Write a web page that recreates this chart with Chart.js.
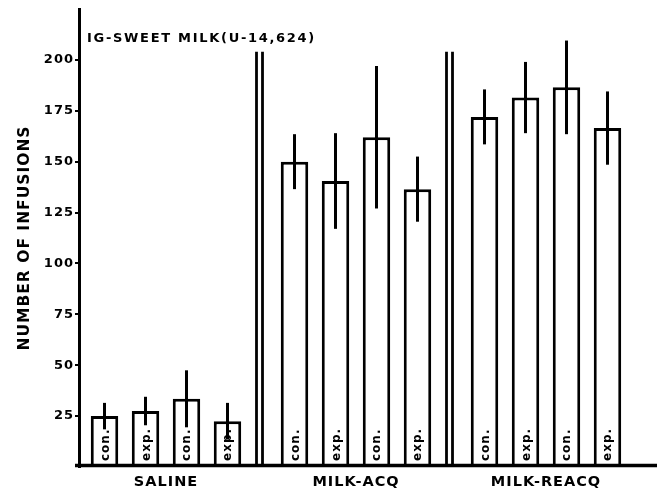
<!DOCTYPE html>
<html>
<head>
<meta charset="utf-8">
<script src="https://cdn.jsdelivr.net/npm/chart.js@4/dist/chart.umd.min.js"></script>
<style>
  html, body { margin: 0; padding: 0; background: #ffffff; }
  #wrap { width: 657px; height: 493px; }
</style>
</head>
<body>
<div id="wrap"><canvas id="c" width="657" height="493"></canvas></div>
<script>
// ---- data ----
const groups = ['SALINE', 'MILK-ACQ', 'MILK-REACQ'];
const barNames = ['con.', 'exp.', 'con.', 'exp.'];
const salineMeans = [25, 27.5, 33.5, 22.5];
const salineErrors = [6.5, 7, 14, 9];
const acqMeans = [150, 140.5, 162, 136.5];
const acqErrors = [13.5, 23.5, 35, 16];
const reacqMeans = [172, 181.5, 186.5, 166.5];
const reacqErrors = [13.5, 17.5, 23, 18];
const yTicks = [25, 50, 75, 100, 125, 150, 175, 200];
const chartTitle = 'IG-SWEET MILK(U-14,624)';
const yTitle = 'NUMBER OF INFUSIONS';

const datasets = barNames.map((name, k) => ({
  label: name,
  data: [salineMeans[k], acqMeans[k], reacqMeans[k]],
  errors: [salineErrors[k], acqErrors[k], reacqErrors[k]],
  backgroundColor: '#ffffff',
  borderColor: '#000000',
  borderWidth: 3,
  barPercentage: 0.67,
  categoryPercentage: 0.863
}));

const FONT = 'DejaVu Sans';

const decor = {
  id: 'decor',
  afterLayout(chart) {
    const xs = chart.scales.x;
    xs.left = chart.chartArea.left - 8;
    xs.width = xs.right - xs.left;
    xs.configure();
  },
  beforeDraw(chart) {
    chart.ctx.letterSpacing = '1px';
  },
  afterDatasetsDraw(chart) {
    const ctx = chart.ctx;
    const xs = chart.scales.x, ys = chart.scales.y;
    const area = chart.chartArea;
    ctx.save();
    ctx.strokeStyle = '#000';
    ctx.fillStyle = '#000';
    // error bars and inner labels
    chart.data.datasets.forEach((ds, i) => {
      const meta = chart.getDatasetMeta(i);
      meta.data.forEach((bar, j) => {
        const m = ds.data[j], e = ds.errors[j];
        ctx.lineWidth = 3;
        ctx.beginPath();
        ctx.moveTo(bar.x, ys.getPixelForValue(m + e));
        ctx.lineTo(bar.x, ys.getPixelForValue(m - e));
        ctx.stroke();
        ctx.save();
        ctx.translate(bar.x, bar.base - 6);
        ctx.rotate(-Math.PI / 2);
        ctx.font = 'bold 12px "' + FONT + '"';
        ctx.letterSpacing = '1px';
        ctx.textAlign = 'left';
        ctx.textBaseline = 'alphabetic';
        ctx.fillText(ds.label, 0, 4);
        ctx.restore();
      });
    });
    // double divider lines between groups
    const top = ys.getPixelForValue(204);
    ctx.lineWidth = 2.8;
    for (let i = 0; i < groups.length - 1; i++) {
      const mid = (xs.getPixelForValue(i) + xs.getPixelForValue(i + 1)) / 2 - 1.5;
      [mid - 3, mid + 3].forEach(x => {
        ctx.beginPath();
        ctx.moveTo(x, top);
        ctx.lineTo(x, area.bottom);
        ctx.stroke();
      });
    }
    // baseline extending to right edge
    ctx.lineWidth = 3.5;
    ctx.beginPath();
    ctx.moveTo(area.left - 4, area.bottom - 1.5);
    ctx.lineTo(chart.width, area.bottom - 1.5);
    ctx.stroke();
    // title inside plot
    ctx.font = 'bold 13px "' + FONT + '"';
    ctx.letterSpacing = '1.7px';
    ctx.textAlign = 'left';
    ctx.textBaseline = 'middle';
    ctx.fillText(chartTitle, area.left + 8, area.top + 30);
    ctx.restore();
  }
};

Chart.defaults.font.family = FONT;
Chart.defaults.font.weight = 'bold';
Chart.defaults.color = '#000';

new Chart(document.getElementById('c'), {
  type: 'bar',
  data: { labels: groups, datasets },
  options: {
    responsive: false,
    animation: false,
    layout: { padding: { top: 9, right: 16, left: 0, bottom: 0 } },
    plugins: { legend: { display: false }, tooltip: { enabled: false }, title: { display: false } },
    scales: {
      x: {
        type: 'category',
        offset: true,
        grid: { display: false, drawTicks: false },
        border: { display: false },
        ticks: { color: '#000', font: { size: 14.5, weight: 'bold' }, padding: 7, maxRotation: 0, autoSkip: false },
        afterFit(s) { s.height = 26; }
      },
      y: {
        min: 0,
        max: 225,
        afterBuildTicks(s) { s.ticks = yTicks.map(v => ({ value: v })); },
        grid: { display: true, drawOnChartArea: false, drawTicks: true, tickLength: 4, color: '#000', lineWidth: 2 },
        border: { display: true, color: '#000', width: 3 },
        ticks: { color: '#000', font: { size: 13, weight: 'bold' }, padding: 1 },
        title: { display: true, text: yTitle, color: '#000', font: { size: 15.5, weight: 'bold' }, padding: { top: 16, bottom: 0 } },
        afterFit(s) { s.width = 79; }
      }
    }
  },
  plugins: [decor]
});
</script>
</body>
</html>
